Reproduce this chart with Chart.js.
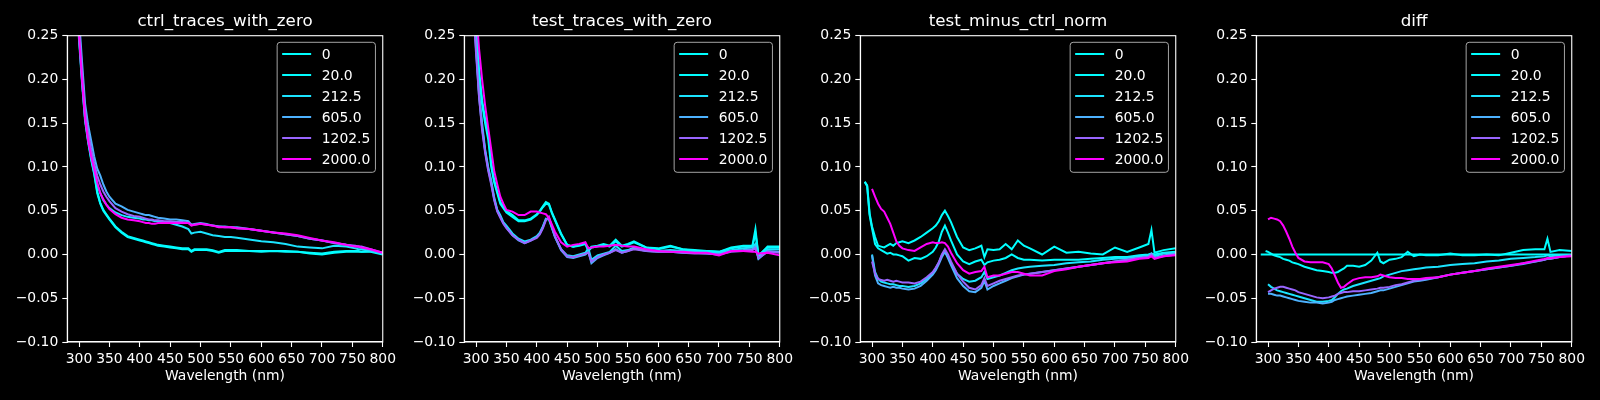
<!DOCTYPE html>
<html>
<head>
<meta charset="utf-8">
<script src="https://cdn.jsdelivr.net/npm/chart.js@4/dist/chart.umd.min.js"></script>
<style>
body { margin: 0; background: #000; width: 1600px; height: 400px; overflow: hidden; position: relative; }
canvas { position: absolute; top: 0; }
</style>
</head>
<body>
<canvas id="panel0" width="400" height="400" style="left:0px"></canvas>
<canvas id="panel1" width="400" height="400" style="left:396.7px"></canvas>
<canvas id="panel2" width="400" height="400" style="left:792.7px"></canvas>
<canvas id="panel3" width="400" height="400" style="left:1189.4px"></canvas>
<script>
var wavelength = [288,292,296,300,305,310,315,320,325,330, 335,340,345,350,360,370,380,390,400,405, 410,415,420,425,430,440,450,460,470,480, 485,490,500,510,520,530,540,550,560,580, 600,620,640,660,680,700,720,740,755,760, 765,780,800];

var labels = ["0", "20.0", "212.5", "605.0", "1202.5", "2000.0"];
var titles = ["ctrl_traces_with_zero", "test_traces_with_zero", "test_minus_ctrl_norm", "diff"];
var x_ticks = [300,350,400,450,500,550,600,650,700,750,800];
var y_ticks = [-0.10,-0.05,0.00,0.05,0.10,0.15,0.20,0.25];

// ctrl_traces_with_zero
var ctrl_0 = [0.40,0.34,0.29,0.245,0.195,0.152,0.128,0.108,0.092,0.070, 0.058,0.050,0.045,0.040,0.031,0.025,0.020,0.018,0.016,0.015, 0.014,0.013,0.012,0.011,0.010,0.009,0.008,0.007,0.006,0.006, 0.003,0.005,0.005,0.005,0.004,0.002,0.004,0.004,0.004,0.004, 0.003,0.004,0.003,0.003,0.001,0.000,0.002,0.003,0.003,0.003, 0.003,0.003,0.000];
var ctrl_20 = [0.41,0.35,0.295,0.25,0.198,0.155,0.13,0.11,0.093,0.072, 0.059,0.051,0.046,0.041,0.032,0.026,0.021,0.019,0.017,0.016, 0.015,0.014,0.013,0.012,0.011,0.010,0.009,0.008,0.007,0.007, 0.004,0.006,0.006,0.006,0.005,0.003,0.005,0.005,0.005,0.004, 0.004,0.004,0.004,0.003,0.002,0.001,0.003,0.004,0.004,0.004, 0.003,0.004,0.001];
var ctrl_212 = [0.42,0.36,0.30,0.255,0.205,0.16,0.135,0.115,0.098,0.080, 0.070,0.062,0.057,0.053,0.048,0.045,0.043,0.042,0.041,0.040, 0.040,0.039,0.039,0.038,0.038,0.037,0.036,0.034,0.032,0.029, 0.024,0.025,0.026,0.024,0.022,0.021,0.020,0.020,0.019,0.017, 0.015,0.014,0.012,0.009,0.008,0.007,0.010,0.009,0.007,0.006, 0.006,0.004,0.001];
var ctrl_605 = [0.45,0.38,0.32,0.27,0.22,0.172,0.148,0.13,0.112,0.098, 0.09,0.08,0.072,0.066,0.058,0.055,0.051,0.049,0.047,0.046, 0.045,0.045,0.044,0.043,0.042,0.041,0.040,0.040,0.039,0.038, 0.034,0.035,0.036,0.035,0.033,0.032,0.032,0.031,0.031,0.029, 0.027,0.025,0.023,0.021,0.018,0.016,0.013,0.011,0.009,0.009, 0.008,0.005,0.001];
var ctrl_1202 = [0.43,0.37,0.31,0.26,0.21,0.165,0.14,0.12,0.104,0.09, 0.08,0.072,0.066,0.061,0.053,0.049,0.046,0.044,0.043,0.042, 0.041,0.040,0.040,0.039,0.039,0.038,0.038,0.037,0.037,0.036, 0.034,0.034,0.035,0.034,0.033,0.032,0.031,0.031,0.030,0.029, 0.027,0.025,0.023,0.021,0.018,0.016,0.013,0.011,0.010,0.009, 0.009,0.006,0.002];
var ctrl_2000 = [0.42,0.35,0.295,0.25,0.198,0.155,0.13,0.112,0.097,0.082, 0.07,0.063,0.057,0.052,0.046,0.042,0.040,0.039,0.038,0.037, 0.036,0.036,0.035,0.035,0.036,0.036,0.036,0.036,0.036,0.036, 0.033,0.034,0.035,0.034,0.033,0.031,0.031,0.031,0.030,0.029, 0.027,0.025,0.024,0.022,0.019,0.016,0.014,0.011,0.009,0.009, 0.008,0.006,0.002];

// test_traces_with_zero
var test_0 = [0.45,0.38,0.31,0.265,0.21,0.176,0.155,0.14,0.105,0.085, 0.072,0.060,0.055,0.050,0.045,0.039,0.039,0.041,0.046,0.050, 0.055,0.060,0.058,0.048,0.040,0.024,0.011,0.009,0.011,0.013, 0.005,0.009,0.010,0.012,0.010,0.017,0.010,0.012,0.015,0.008, 0.007,0.010,0.006,0.005,0.004,0.003,0.008,0.010,0.010,0.029, -0.002,0.009,0.009];
var test_20 = [0.44,0.37,0.305,0.26,0.205,0.172,0.15,0.132,0.10,0.082, 0.07,0.058,0.053,0.048,0.043,0.038,0.038,0.040,0.045,0.049, 0.054,0.058,0.057,0.047,0.039,0.023,0.011,0.009,0.010,0.012, 0.004,0.008,0.009,0.011,0.009,0.015,0.009,0.011,0.014,0.008, 0.006,0.009,0.006,0.004,0.004,0.003,0.007,0.009,0.009,0.024, -0.001,0.008,0.008];
var test_212 = [0.42,0.35,0.29,0.24,0.185,0.15,0.12,0.10,0.085,0.065, 0.051,0.045,0.037,0.033,0.024,0.018,0.015,0.017,0.021,0.025, 0.032,0.041,0.040,0.030,0.020,0.006,-0.001,-0.002,0.000,0.002, 0.007,-0.006,-0.001,0.001,0.003,0.010,0.004,0.005,0.008,0.005, 0.004,0.005,0.004,0.003,0.002,0.002,0.005,0.007,0.008,0.012, -0.004,0.006,0.006];
var test_605 = [0.40,0.34,0.28,0.235,0.18,0.145,0.118,0.098,0.082,0.063, 0.050,0.043,0.036,0.031,0.022,0.016,0.013,0.016,0.020,0.024, 0.031,0.040,0.041,0.031,0.020,0.005,-0.003,-0.004,-0.002,0.000, 0.003,-0.010,-0.004,-0.001,0.002,0.006,0.002,0.004,0.007,0.004, 0.003,0.003,0.002,0.002,0.001,0.000,0.004,0.005,0.006,0.009, -0.005,0.004,0.003];
var test_1202 = [0.39,0.33,0.275,0.23,0.18,0.142,0.116,0.096,0.08,0.062, 0.049,0.042,0.035,0.030,0.022,0.017,0.013,0.016,0.019,0.023, 0.030,0.039,0.043,0.032,0.021,0.006,-0.002,-0.003,-0.001,0.001, 0.002,-0.008,-0.003,0.000,0.002,0.005,0.002,0.004,0.006,0.004, 0.003,0.003,0.002,0.001,0.001,0.000,0.003,0.004,0.005,0.007, -0.004,0.003,0.002];
var test_2000 = [0.47,0.40,0.33,0.28,0.235,0.20,0.17,0.145,0.12,0.095, 0.08,0.066,0.058,0.051,0.049,0.045,0.045,0.049,0.049,0.048, 0.047,0.046,0.042,0.034,0.026,0.014,0.009,0.011,0.012,0.014, 0.007,0.008,0.009,0.009,0.010,0.011,0.010,0.009,0.009,0.006, 0.004,0.003,0.003,0.002,0.002,-0.001,0.004,0.004,0.003,0.003, 0.001,0.002,-0.001];

// test_minus_ctrl_norm
var norm_0 = [0.083,0.079,0.047,0.032,0.020,0.010,0.009,0.008,0.010,0.012, 0.010,0.013,0.014,0.015,0.013,0.016,0.020,0.025,0.030,0.033, 0.038,0.045,0.050,0.044,0.037,0.020,0.008,0.005,0.007,0.010, -0.003,0.006,0.005,0.006,0.012,0.006,0.016,0.010,0.007,0.000, 0.009,0.002,0.003,0.001,0.000,0.008,0.003,0.008,0.012,0.028, 0.002,0.005,0.007];
var norm_20 = [0.083,0.078,0.045,0.030,0.012,0.007,0.005,0.003,0.001,0.002, 0.000,0.000,-0.001,-0.002,-0.007,-0.004,-0.005,-0.002,0.003,0.008, 0.015,0.026,0.033,0.025,0.016,0.000,-0.008,-0.011,-0.008,-0.006, -0.012,-0.009,-0.007,-0.006,-0.004,0.000,-0.004,-0.006,-0.006,-0.007, -0.006,-0.006,-0.006,-0.005,-0.004,-0.003,-0.003,-0.001,0.000,0.001, 0.000,0.002,0.003];
var norm_212 = [null,null,null,0.000,-0.020,-0.028,-0.031,-0.032,-0.033,-0.034, -0.034,-0.035,-0.036,-0.036,-0.037,-0.036,-0.033,-0.028,-0.021,-0.016, -0.009,-0.001,0.004,-0.003,-0.010,-0.022,-0.028,-0.031,-0.030,-0.026, -0.020,-0.028,-0.026,-0.024,-0.021,-0.018,-0.016,-0.015,-0.014,-0.013, -0.012,-0.010,-0.009,-0.008,-0.006,-0.005,-0.004,-0.002,-0.001,0.000, -0.002,0.001,0.002];
var norm_605 = [null,null,null,-0.001,-0.024,-0.033,-0.035,-0.036,-0.037,-0.038, -0.037,-0.038,-0.038,-0.039,-0.040,-0.039,-0.036,-0.030,-0.023,-0.018, -0.011,-0.003,0.003,-0.004,-0.012,-0.027,-0.036,-0.042,-0.043,-0.038, -0.030,-0.040,-0.036,-0.033,-0.030,-0.027,-0.025,-0.023,-0.022,-0.020, -0.018,-0.016,-0.014,-0.012,-0.010,-0.008,-0.006,-0.004,-0.003,0.001, -0.004,-0.001,0.001];
var norm_1202 = [null,null,null,-0.008,-0.022,-0.028,-0.029,-0.030,-0.029,-0.030, -0.031,-0.030,-0.031,-0.032,-0.032,-0.033,-0.031,-0.026,-0.020,-0.015, -0.009,0.000,0.006,0.000,-0.008,-0.022,-0.031,-0.038,-0.040,-0.035, -0.027,-0.036,-0.033,-0.030,-0.028,-0.026,-0.024,-0.023,-0.022,-0.020, -0.018,-0.016,-0.014,-0.012,-0.010,-0.008,-0.006,-0.004,-0.003,0.000, -0.004,-0.002,0.000];
var norm_2000 = [null,null,null,0.075,0.066,0.058,0.052,0.049,0.042,0.035, 0.025,0.015,0.010,0.007,0.005,0.004,0.008,0.012,0.014,0.013, 0.013,0.014,0.013,0.009,0.002,-0.010,-0.018,-0.022,-0.020,-0.019, -0.014,-0.026,-0.024,-0.024,-0.022,-0.020,-0.020,-0.022,-0.024,-0.024, -0.019,-0.017,-0.014,-0.012,-0.010,-0.009,-0.008,-0.005,-0.004,-0.002, -0.005,-0.002,-0.001];

// diff
var diff_0 = [0,0,0,0,0,0,0,0,0,0, 0,0,0,0,0,0,0,0,0,0, 0,0,0,0,0,0,0,0,0,0, 0,0,0,0,0,0,0,0,0,0, 0,0,0,0,0,0,0,0,0,0, 0,0,0];
var diff_20 = [null,null,0.004,0.003,0.001,-0.001,-0.002,-0.003,-0.005,-0.006, -0.007,-0.009,-0.010,-0.011,-0.014,-0.016,-0.018,-0.019,-0.020,-0.021, -0.021,-0.020,-0.018,-0.016,-0.013,-0.013,-0.014,-0.012,-0.007,0.002, -0.008,-0.010,-0.006,-0.005,-0.003,0.003,-0.002,0.000,-0.001,-0.001, 0.001,-0.001,-0.001,0.000,-0.001,0.002,0.005,0.006,0.006,0.018, 0.003,0.005,0.004];
var diff_212 = [null,null,null,-0.034,-0.037,-0.039,-0.041,-0.042,-0.043,-0.044, -0.045,-0.046,-0.047,-0.048,-0.050,-0.052,-0.054,-0.054,-0.053,-0.052, -0.049,-0.045,-0.042,-0.040,-0.039,-0.036,-0.034,-0.032,-0.030,-0.028, -0.027,-0.025,-0.023,-0.021,-0.019,-0.018,-0.017,-0.016,-0.015,-0.014, -0.012,-0.011,-0.010,-0.008,-0.007,-0.005,-0.004,-0.003,-0.002,-0.001, -0.002,-0.001,-0.001];
var diff_605 = [null,null,null,-0.045,-0.045,-0.046,-0.047,-0.047,-0.048,-0.049, -0.050,-0.051,-0.052,-0.053,-0.054,-0.055,-0.055,-0.056,-0.055,-0.054, -0.052,-0.051,-0.050,-0.049,-0.048,-0.047,-0.046,-0.045,-0.044,-0.042, -0.041,-0.041,-0.039,-0.037,-0.035,-0.033,-0.031,-0.030,-0.029,-0.026, -0.023,-0.021,-0.019,-0.017,-0.015,-0.013,-0.011,-0.008,-0.006,-0.005, -0.005,-0.003,-0.001];
var diff_1202 = [null,null,null,-0.043,-0.041,-0.039,-0.038,-0.037,-0.037,-0.038, -0.039,-0.040,-0.041,-0.043,-0.045,-0.047,-0.049,-0.050,-0.049,-0.048, -0.047,-0.045,-0.044,-0.043,-0.043,-0.042,-0.042,-0.041,-0.040,-0.039, -0.038,-0.038,-0.037,-0.035,-0.034,-0.032,-0.030,-0.029,-0.028,-0.026, -0.023,-0.021,-0.019,-0.017,-0.015,-0.013,-0.010,-0.008,-0.006,-0.005, -0.005,-0.003,-0.001];
var diff_2000 = [null,null,null,0.040,0.042,0.041,0.040,0.038,0.033,0.026, 0.018,0.009,0.002,-0.004,-0.008,-0.009,-0.009,-0.009,-0.011,-0.016, -0.024,-0.032,-0.038,-0.037,-0.034,-0.029,-0.027,-0.026,-0.026,-0.025, -0.023,-0.024,-0.026,-0.027,-0.027,-0.028,-0.028,-0.028,-0.027,-0.026, -0.023,-0.021,-0.019,-0.016,-0.014,-0.012,-0.010,-0.007,-0.005,-0.004, -0.004,-0.003,-0.002];

// "cool" colormap sampled at concentration / 2000
var colors = ["rgb(0,255,255)", "rgb(2,253,255)", "rgb(27,228,255)", "rgb(77,178,255)", "rgb(153,102,255)", "rgb(255,0,255)"];
var font = '"DejaVu Sans", sans-serif';

var panelPlugin = {
    id: 'panel',
    afterDatasetsDraw: function (chart, args, opts) {
        var a = chart.chartArea;
        var ctx = chart.ctx;
        ctx.save();
        ctx.strokeStyle = "#fff";
        ctx.lineWidth = 1.1;
        ctx.strokeRect(a.left, a.top, a.right - a.left, a.bottom - a.top);

        ctx.fillStyle = "#fff";
        ctx.font = "16.7px " + font;
        ctx.textAlign = "center";
        ctx.textBaseline = "alphabetic";
        ctx.fillText(opts.title, (a.left + a.right) / 2, a.top - 9.5);

        // legend, upper right
        var w = 98.3, h = 130;
        var bx = a.right - 7.3 - w, by = a.top + 6.6;
        ctx.beginPath();
        ctx.roundRect(bx, by, w, h, 3);
        ctx.fillStyle = "rgba(0,0,0,0.8)";
        ctx.fill();
        ctx.strokeStyle = "rgba(204,204,204,0.8)";
        ctx.lineWidth = 1;
        ctx.stroke();
        ctx.font = "13.9px " + font;
        ctx.textAlign = "left";
        ctx.textBaseline = "middle";
        chart.data.datasets.forEach(function (ds, i) {
            var y = by + 11.7 + 21 * i;
            ctx.strokeStyle = ds.borderColor;
            ctx.lineWidth = 2;
            ctx.beginPath();
            ctx.moveTo(bx + 5, y);
            ctx.lineTo(bx + 34, y);
            ctx.stroke();
            ctx.fillStyle = "#fff";
            ctx.fillText(ds.label, bx + 44.6, y + 1);
        });
        ctx.restore();
    }
};

function makePanel(id, title, series) {
    var ctx = document.getElementById(id).getContext("2d");
    var datasets = series.map(function (s, i) {
        return {
            label: labels[i],
            data: wavelength.map(function (w, j) { return {x: w, y: s[j]}; }),
            borderColor: colors[i],
            borderWidth: 2,
            pointRadius: 0,
            fill: false,
            clip: 0,
            order: series.length - i
        };
    });
    var tickFont = {family: font, size: 13.9};
    return new Chart(ctx, {
        type: 'line',
        data: {datasets: datasets},
        plugins: [panelPlugin],
        options: {
            animation: false,
            responsive: false,
            devicePixelRatio: 1,
            layout: {padding: {left: 0, right: 17.2, top: 35.7, bottom: 15.7}},
            plugins: {
                legend: {display: false},
                tooltip: {enabled: false},
                panel: {title: title}
            },
            scales: {
                x: {
                    type: 'linear',
                    min: 280.7,
                    max: 800,
                    afterBuildTicks: function (s) { s.ticks = x_ticks.map(function (v) { return {value: v}; }); },
                    afterFit: function (s) { s.height = 42.3; },
                    grid: {drawOnChartArea: false, drawTicks: true, tickLength: 5, color: "#fff", tickWidth: 1.1},
                    border: {display: true, color: "#fff", width: 1.1},
                    ticks: {color: "#fff", font: tickFont, padding: 4, maxRotation: 0, autoSkip: false,
                        callback: function (v) { return String(v); }},
                    title: {display: true, text: "Wavelength (nm)", color: "#fff", font: tickFont, padding: 0}
                },
                y: {
                    type: 'linear',
                    min: -0.1,
                    max: 0.25,
                    afterBuildTicks: function (s) { s.ticks = y_ticks.map(function (v) { return {value: v}; }); },
                    afterFit: function (s) { s.width = 67.3; },
                    grid: {drawOnChartArea: false, drawTicks: true, tickLength: 5, color: "#fff", tickWidth: 1.1},
                    border: {display: true, color: "#fff", width: 1.1},
                    ticks: {color: "#fff", font: tickFont, padding: 4, autoSkip: false,
                        callback: function (v) { return v.toFixed(2).replace("-", "\u2212"); }}
                }
            }
        }
    });
}

window.onload = function () {
    makePanel("panel0", titles[0], [ctrl_0, ctrl_20, ctrl_212, ctrl_605, ctrl_1202, ctrl_2000]);
    makePanel("panel1", titles[1], [test_0, test_20, test_212, test_605, test_1202, test_2000]);
    makePanel("panel2", titles[2], [norm_0, norm_20, norm_212, norm_605, norm_1202, norm_2000]);
    makePanel("panel3", titles[3], [diff_0, diff_20, diff_212, diff_605, diff_1202, diff_2000]);
};
</script>
</body>
</html>
